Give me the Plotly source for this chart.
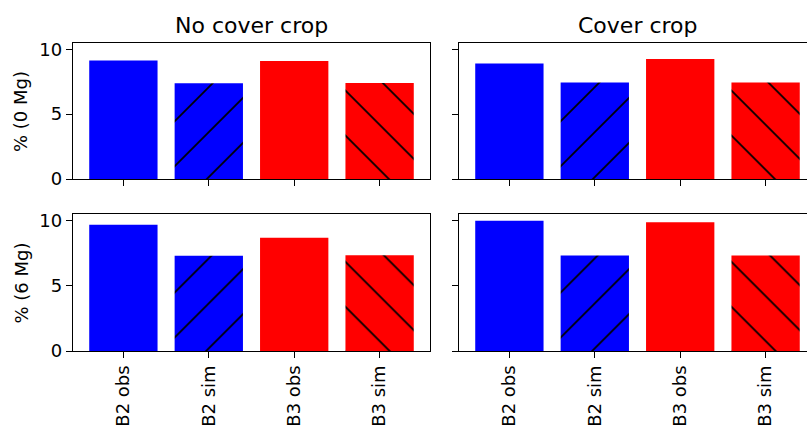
import plotly.graph_objects as go

categories = ["B2 obs", "B2 sim", "B3 obs", "B3 sim"]
no_cover_0mg = [9.13, 7.37, 9.09, 7.39]
cover_0mg = [8.90, 7.43, 9.25, 7.43]
no_cover_6mg = [9.68, 7.30, 8.68, 7.34]
cover_6mg = [9.98, 7.33, 9.87, 7.33]
group_colors = ["#0000ff", "#ff0000"]
hatches = [["", "/"], ["", "\\"]]
col_titles = ["No cover crop", "Cover crop"]
row_labels = ["% (0 Mg)", "% (6 Mg)"]

W, H = 807, 429
L, R, T, B = 73, 0, 43, 78
PW = W - L - R
PH = H - T - B

def px_x(p):
    return (p - L) / PW

def px_y(p):
    return (H - B - p) / PH

fig = go.Figure()

panels = [
    (no_cover_0mg, "x", "y"),
    (cover_0mg, "x2", "y2"),
    (no_cover_6mg, "x3", "y3"),
    (cover_6mg, "x4", "y4"),
]
for vals, xa, ya in panels:
    for g in range(2):
        idx = slice(2 * g, 2 * g + 2)
        fig.add_trace(go.Bar(
            x=categories[idx], y=vals[idx], xaxis=xa, yaxis=ya,
            width=0.8,
            marker=dict(
                color=group_colors[g],
                line=dict(width=0),
                pattern=dict(shape=hatches[g], bgcolor=group_colors[g], fgcolor="#000000",
                             size=31.8, solidity=0.055, fillmode="replace"),
            ),
            showlegend=False,
        ))

font = dict(family="DejaVu Sans", size=18, color="#000000")
dx_left = [px_x(73), px_x(430)]
dx_right = [px_x(459), 1.0]
dy_top = [px_y(179), 1.0]
dy_bot = [0.0, px_y(214.3)]
xr_left = [-0.59, 3.59]
scale = 357 / 4.18
xr_right = [-0.59, -0.59 + (807 - 459) / scale]
yr = [0, 10.48]

common_x = dict(type="category", categoryorder="array", categoryarray=categories,
                showline=True, linecolor="#000000", linewidth=1.3,
                mirror=True, ticks="outside", ticklen=6, tickwidth=1.3, tickcolor="#000000",
                showgrid=False, zeroline=False, tickfont=font, tickangle=-90,
                automargin=False, fixedrange=True)
common_y = dict(showline=True, linecolor="#000000", linewidth=1.3,
                ticks="outside", ticklen=6, tickwidth=1.3, tickcolor="#000000",
                showgrid=False, zeroline=False, tickfont=font, range=yr,
                tickvals=[0, 5, 10], automargin=False, fixedrange=True)

fig.update_layout(
    width=W, height=H,
    margin=dict(l=L, r=R, t=T, b=B, pad=0),
    paper_bgcolor="white", plot_bgcolor="white",
    barmode="overlay",
    font=font,
    xaxis=dict(common_x, domain=dx_left, range=xr_left, anchor="y", showticklabels=False),
    yaxis=dict(common_y, domain=dy_top, anchor="x", mirror=True),
    xaxis2=dict(common_x, domain=dx_right, range=xr_right, anchor="y2", showticklabels=False),
    yaxis2=dict(common_y, domain=dy_top, anchor="x2", mirror=False, showticklabels=False),
    xaxis3=dict(common_x, domain=dx_left, range=xr_left, anchor="y3"),
    yaxis3=dict(common_y, domain=dy_bot, anchor="x3", mirror=True),
    xaxis4=dict(common_x, domain=dx_right, range=xr_right, anchor="y4"),
    yaxis4=dict(common_y, domain=dy_bot, anchor="x4", mirror=False, showticklabels=False),
)

annotations = [
    dict(text=col_titles[0], x=px_x(251.5), y=px_y(26), xref="paper", yref="paper",
         xanchor="center", yanchor="middle", showarrow=False,
         font=dict(family="DejaVu Sans", size=22, color="#000000")),
    dict(text=col_titles[1], x=px_x(637.5), y=px_y(26), xref="paper", yref="paper",
         xanchor="center", yanchor="middle", showarrow=False,
         font=dict(family="DejaVu Sans", size=22, color="#000000")),
    dict(text=row_labels[0], x=px_x(21), y=px_y(111), xref="paper", yref="paper",
         xanchor="center", yanchor="middle", showarrow=False, textangle=-90, font=font),
    dict(text=row_labels[1], x=px_x(21), y=px_y(282.5), xref="paper", yref="paper",
         xanchor="center", yanchor="middle", showarrow=False, textangle=-90, font=font),
]
fig.update_layout(annotations=annotations)

fig.write_html("out.html")
